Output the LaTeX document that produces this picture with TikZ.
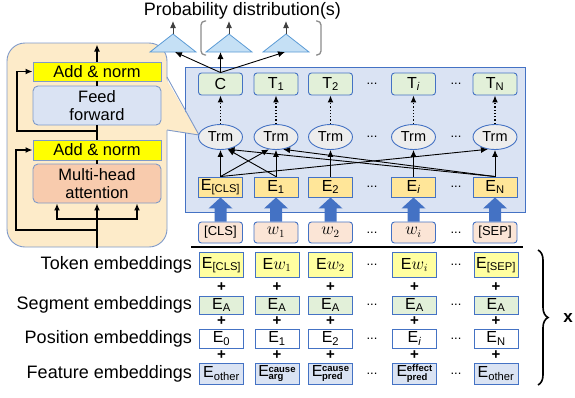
\documentclass[tikz,border=0pt]{standalone}
\usepackage{amsmath}
\usepackage{fontspec}
\setmainfont{Liberation Sans}
\usepackage{tikz}
\usepackage{xcolor}
\usetikzlibrary{shapes, positioning, calc, arrows.meta, decorations.pathreplacing}

\definecolor{boxblue}{HTML}{4472C4}
\definecolor{edgeblue}{HTML}{7F9AC9}
\definecolor{panelblue}{HTML}{DAE3F3}
\definecolor{beige}{HTML}{FDEBC9}
\definecolor{normyellow}{HTML}{FFFF00}
\definecolor{attnsalmon}{HTML}{F8CBAD}
\definecolor{outgreen}{HTML}{E2F0D9}
\definecolor{trmgray}{HTML}{EDEDED}
\definecolor{embyellow}{HTML}{FFE699}
\definecolor{tokpink}{HTML}{FBE5D6}
\definecolor{tokyellow}{HTML}{FFFFA0}
\definecolor{trifill}{HTML}{C5E0F5}
\definecolor{triedge}{HTML}{5B9BD5}
\definecolor{bracketgray}{HTML}{8C8C8C}

% E with a stacked feature tag
\newcommand{\featemb}[2]{E\kern-0.5pt{\fontsize{9.5}{9.5}\selectfont\bfseries\raisebox{-3.5pt}{\shortstack[l]{#1\\[-1.2pt]#2}}}}

\tikzset{
  emb/.style={draw=boxblue, line width=0.9pt, minimum width=44pt, minimum height=20pt, inner sep=0pt, font=\fontsize{16}{16}\selectfont},
  outbox/.style={emb, fill=outgreen, rounded corners=3pt, minimum height=22pt},
  trm/.style={ellipse, draw=boxblue, line width=0.9pt, fill=trmgray, minimum width=44pt, minimum height=25pt, inner sep=0pt, font=\fontsize{14.5}{14.5}\selectfont},
  inbox/.style={emb, fill=tokpink, rounded corners=3pt, minimum height=21pt, font=\fontsize{13}{13}\selectfont},
  layer/.style={draw=edgeblue, line width=0.9pt, minimum width=128pt, inner sep=0pt, font=\fontsize{16.5}{18}\selectfont, align=center},
  rowlabel/.style={font=\fontsize{18}{18}\selectfont, inner sep=0pt},
  dots/.style={font=\fontsize{13}{13}\selectfont, inner sep=0pt},
  plus/.style={font=\fontsize{15}{15}\selectfont\bfseries, inner sep=0pt},
  spine/.style={line width=1.5pt},
  link/.style={line width=0.9pt, ->},
}

\begin{document}
\begin{tikzpicture}[x=1pt, y=-1pt, >={Latex[length=7pt,width=6pt]}]
    \useasboundingbox (0,0) rectangle (575,397);

    % transformer panel
    \draw[draw=boxblue, fill=panelblue, line width=0.8pt] (185,67) rectangle (525,212);

    % encoder block with callout
    \draw[draw=edgeblue, fill=beige, line width=0.9pt, rounded corners=18pt] (7,43) rectangle (167,247);
    \fill[beige] (165,77) -- (199,135) -- (165,130) -- cycle;
    \draw[draw=edgeblue, line width=0.9pt] (167,77) -- (199,135) -- (167,130);

    \node[layer, fill=normyellow, minimum height=19pt] (norm1) at (97,71.5) {Add \& norm};
    \node[layer, fill=panelblue, rounded corners=5pt, minimum height=39pt] (ffn) at (97,105.5) {Feed\\forward};
    \node[layer, fill=normyellow, minimum height=20pt] (norm2) at (97,150) {Add \& norm};
    \node[layer, fill=attnsalmon, rounded corners=5pt, minimum height=39pt] (mha) at (97,183.5) {Multi-head\\attention};

    \coordinate (split) at (97,219);
    \draw[spine] (97,248) -- (split);
    \draw[spine, ->] (split) -- (mha.south);
    \draw[spine, ->] (split) -| ([xshift=-40pt]mha.south);
    \draw[spine, ->] (split) -| ([xshift=40pt]mha.south);
    \draw[spine, ->] (97,230) -- (16,230) |- (norm2.west);
    \draw[spine] (mha.north) -- (norm2.south);
    \draw[spine] (norm2.north) -- (ffn.south);
    \draw[spine, ->] (97,131) -- (17,131) |- (norm1.west);
    \draw[spine] (ffn.north) -- (norm1.south);
    \draw[spine, ->] (norm1.north) -- ++(0,-17);

    % outputs
    \node[outbox] (t0) at (220.5,84) {C};
    \node[outbox] (t1) at (276,84) {T\textsubscript{1}};
    \node[outbox] (t2) at (330.5,84) {T\textsubscript{2}};
    \node[outbox] (ti) at (413.5,84) {T\textsubscript{\itshape i}};
    \node[outbox] (tn) at (495,84) {T\textsubscript{N}};

    \node[trm] (trm0) at (220.5,137) {Trm};
    \node[trm] (trm1) at (276,137) {Trm};
    \node[trm] (trm2) at (330.5,137) {Trm};
    \node[trm] (trmi) at (413.5,137) {Trm};
    \node[trm] (trmn) at (495,137) {Trm};

    \node[emb, fill=embyellow] (e0) at (220.5,187) {E\textsubscript{[CLS]}};
    \node[emb, fill=embyellow] (e1) at (276,187) {E\textsubscript{1}};
    \node[emb, fill=embyellow] (e2) at (330.5,187) {E\textsubscript{2}};
    \node[emb, fill=embyellow] (ei) at (413.5,187) {E\textsubscript{\itshape i}};
    \node[emb, fill=embyellow] (en) at (495,187) {E\textsubscript{N}};

    \node[inbox] (in0) at (220.5,232.5) {[CLS]};
    \node[inbox] (in1) at (276,232.5) {\fontsize{16}{16}\selectfont$w_1$};
    \node[inbox] (in2) at (330.5,232.5) {\fontsize{16}{16}\selectfont$w_2$};
    \node[inbox] (ini) at (413.5,232.5) {\fontsize{16}{16}\selectfont$w_i$};
    \node[inbox] (inn) at (495,232.5) {[SEP]};

    \foreach \y in {84,137,187,232.5} {
        \node[dots] at (372,\y) {...};
        \node[dots] at (456,\y) {...};
    }

    \foreach \c in {0,1,2,i,n} {
        \draw[dotted, line width=1.3pt, ->] (trm\c.north) -- (t\c.south);
        \draw[link] (e\c.north) -- (trm\c.south);
        \fill[boxblue] ($(in\c.north)+(-6,0)$) -- ($(e\c.south)+(-6,11)$) -- ($(e\c.south)+(-12,11)$)
            -- (e\c.south) -- ($(e\c.south)+(12,11)$) -- ($(e\c.south)+(6,11)$) -- ($(in\c.north)+(6,0)$) -- cycle;
    }
    \draw[link] (e0.north) -- (trm1.-120);
    \draw[link] (e0.north) -- (trmn.-120);
    \draw[link] (e1.north) -- (trm0.-60);
    \draw[link] (en.north) -- (trm0.-60);
    \draw[link] (en.north) -- (trm1.-60);

    % probability heads
    \node[rowlabel] (title) at (242.5,11) {Probability distribution(s)};
    \foreach \k/\cx in {1/173,2/229,3/286} {
        \filldraw[fill=trifill, draw=triedge, line width=0.8pt] (\cx-23,52) -- (\cx,34) -- (\cx+23,52) -- cycle;
        \coordinate (pa\k) at (\cx,34);
        \draw[line width=1pt, draw=darkgray, ->] (pa\k) -- ++(0,-13);
    }
    \coordinate (pb1) at (175,52);
    \coordinate (pb3) at (285,52);
    \draw[link] (t0.north) -- (pb1);
    \draw[link] (t0.north) -- (t0.north |- pb1);
    \draw[link] (t0.north) -- (pb3);
    \draw[draw=bracketgray, line width=1.3pt, rounded corners=4pt] (206,21) -- (201,21) -- (201,55) -- (206,55);
    \draw[draw=bracketgray, line width=1.3pt, rounded corners=4pt] (316,21) -- (321,21) -- (321,55) -- (316,55);

    % input embeddings
    \draw[line width=1.8pt] (191,247) -- (523,247);

    \node[emb, fill=tokyellow, minimum height=25pt] (tok0) at (221.5,265) {E\textsubscript{[CLS]}};
    \node[emb, fill=tokyellow, minimum height=25pt] (tok1) at (277,265) {E$w_1$};
    \node[emb, fill=tokyellow, minimum height=25pt] (tok2) at (330.5,265) {E$w_2$};
    \node[emb, fill=tokyellow, minimum height=25pt] (toki) at (414.5,265) {E$w_i$};
    \node[emb, fill=tokyellow, minimum height=25pt] (tokn) at (496,265) {E\textsubscript{[SEP]}};

    \node[emb, fill=outgreen, minimum height=18pt] (seg0) at (221.5,305) {E\textsubscript{A}};
    \node[emb, fill=outgreen, minimum height=18pt] (seg1) at (277,305) {E\textsubscript{A}};
    \node[emb, fill=outgreen, minimum height=18pt] (seg2) at (330.5,305) {E\textsubscript{A}};
    \node[emb, fill=outgreen, minimum height=18pt] (segi) at (414.5,305) {E\textsubscript{A}};
    \node[emb, fill=outgreen, minimum height=18pt] (segn) at (496,305) {E\textsubscript{A}};

    \node[emb, fill=white, minimum height=19pt] (pos0) at (221.5,338.5) {E\textsubscript{0}};
    \node[emb, fill=white, minimum height=19pt] (pos1) at (277,338.5) {E\textsubscript{1}};
    \node[emb, fill=white, minimum height=19pt] (pos2) at (330.5,338.5) {E\textsubscript{2}};
    \node[emb, fill=white, minimum height=19pt] (posi) at (414.5,338.5) {E\textsubscript{\itshape i}};
    \node[emb, fill=white, minimum height=19pt] (posn) at (496,338.5) {E\textsubscript{N}};

    \node[emb, fill=panelblue, minimum height=21pt] (feat0) at (221.5,373.5) {E\textsubscript{other}};
    \node[emb, fill=panelblue, minimum height=21pt] (feat1) at (277,373.5) {\featemb{cause}{arg}};
    \node[emb, fill=panelblue, minimum height=21pt] (feat2) at (330.5,373.5) {\featemb{cause}{pred}};
    \node[emb, fill=panelblue, minimum height=21pt] (feati) at (414.5,373.5) {\featemb{effect}{pred}};
    \node[emb, fill=panelblue, minimum height=21pt] (featn) at (496,373.5) {E\textsubscript{other}};

    \foreach \y in {265,305,338.5,373.5} {
        \node[dots] at (372,\y) {...};
        \node[dots] at (456,\y) {...};
    }
    \foreach \c in {0,1,2,i,n} {
        \node[plus] at ($(tok\c.south)!0.5!(seg\c.north)$) {+};
        \node[plus] at ($(seg\c.south)!0.5!(pos\c.north)$) {+};
        \node[plus] at ($(pos\c.south)!0.5!(feat\c.north)$) {+};
    }

    \node[rowlabel, left=7pt of tok0] (toklabel) {Token embeddings};
    \node[rowlabel, left=7pt of seg0] (seglabel) {Segment embeddings};
    \node[rowlabel, left=7pt of pos0] (poslabel) {Position embeddings};
    \node[rowlabel, left=7pt of feat0] (featlabel) {Feature embeddings};

    \draw[decorate, decoration={brace, amplitude=10pt}, line width=1.6pt] (538,250) -- (538,385);
    \node[font=\fontsize{17}{17}\selectfont, inner sep=0pt] (xvec) at (568,318) {$\mathbf{x}$};
\end{tikzpicture}
\end{document}
